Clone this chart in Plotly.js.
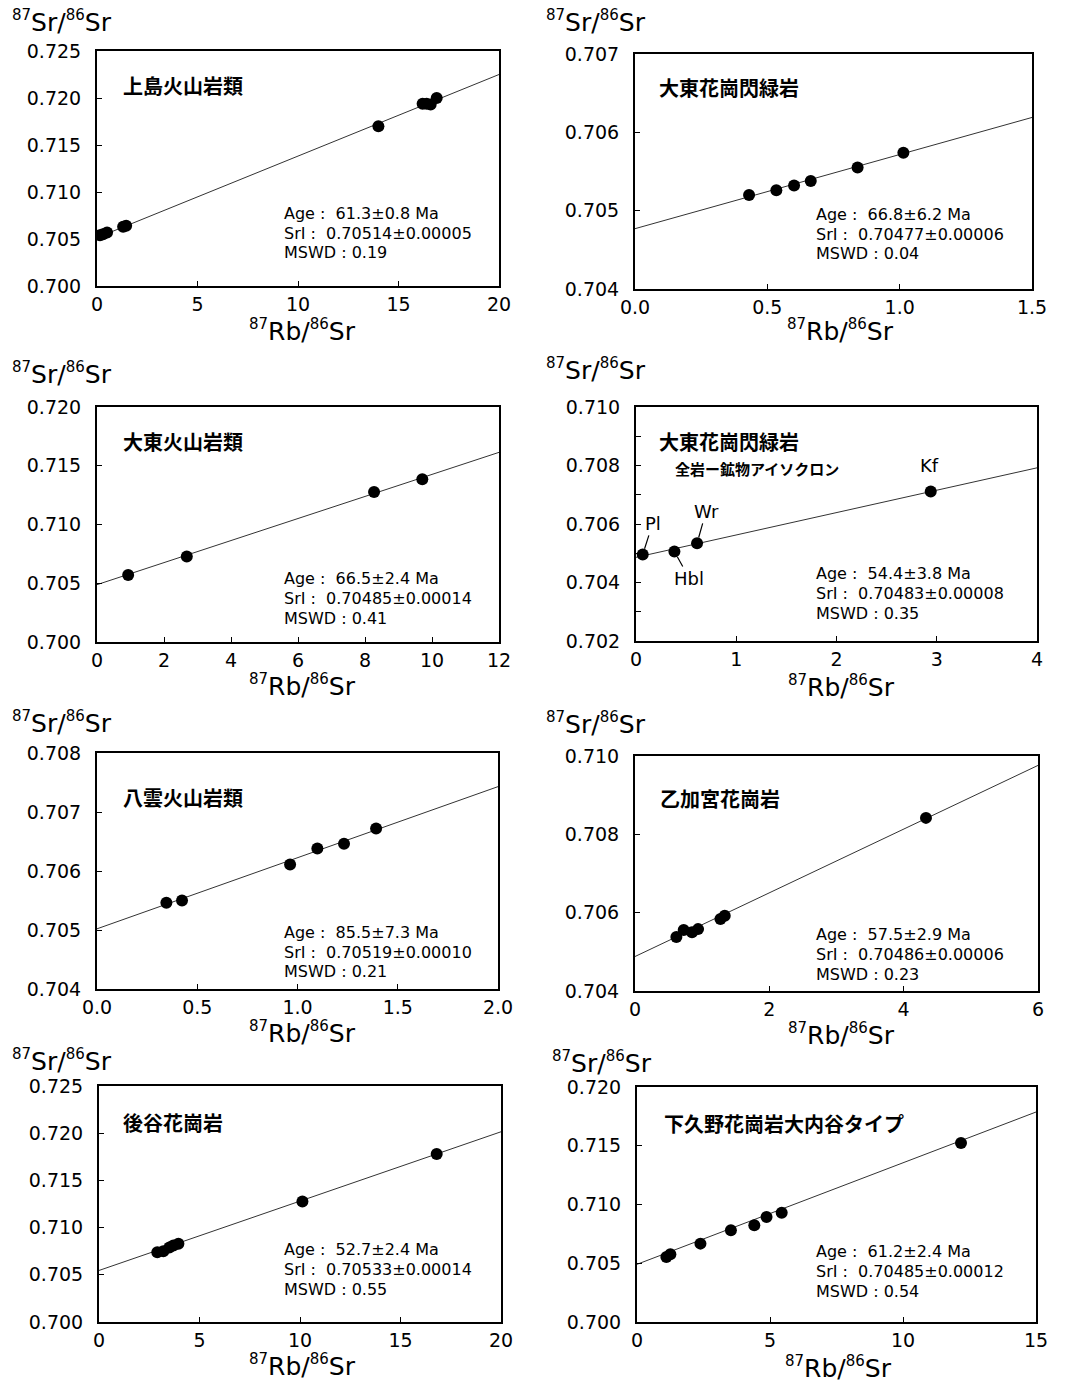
<!DOCTYPE html>
<html>
<head>
<meta charset="utf-8">
<script src="https://cdn.plot.ly/plotly-3.0.1.min.js"></script>
<style>
html,body{margin:0;padding:0;background:#fff;}
#chart{width:1065px;height:1384px;}
</style>
</head>
<body>
<div id="chart"></div>
<script>
// ---------- DATA ----------
const names = ["上島火山岩類","大東花崗閃緑岩","大東火山岩類","大東花崗閃緑岩","八雲火山岩類","乙加宮花崗岩","後谷花崗岩","下久野花崗岩大内谷タイプ"];
const ages  = ["61.3±0.8","66.8±6.2","66.5±2.4","54.4±3.8","85.5±7.3","57.5±2.9","52.7±2.4","61.2±2.4"];
const srIs  = ["0.70514±0.00005","0.70477±0.00006","0.70485±0.00014","0.70483±0.00008","0.70519±0.00010","0.70486±0.00006","0.70533±0.00014","0.70485±0.00012"];
const mswds = ["0.19","0.04","0.41","0.35","0.21","0.23","0.55","0.54"];
const subTitle4 = "全岩ー鉱物アイソクロン";
const mineralLabels4 = ["Pl","Hbl","Wr","Kf"];

// panel 1
const x1 = [0.15, 0.30, 0.50, 1.30, 1.45, 14.0, 16.2, 16.4, 16.6, 16.9];
const y1 = [0.7054, 0.7055, 0.7057, 0.7063, 0.7064, 0.7170, 0.7194, 0.7194, 0.7193, 0.7200];
const lx1 = [0, 20], ly1 = [0.70514, 0.72250];
// panel 2
const x2 = [0.431, 0.534, 0.601, 0.664, 0.841, 1.014];
const y2 = [0.70520, 0.70526, 0.70532, 0.70538, 0.70555, 0.70574];
const lx2 = [0, 1.5], ly2 = [0.70477, 0.70619];
// panel 3
const x3 = [0.93, 2.68, 8.27, 9.71];
const y3 = [0.70571, 0.70727, 0.71276, 0.71386];
const lx3 = [0, 12], ly3 = [0.70488, 0.71614];
// panel 4
const x4 = [0.067, 0.383, 0.609, 2.94];
const y4 = [0.70496, 0.70506, 0.70534, 0.70711];
const lx4 = [0, 4], ly4 = [0.70486, 0.70792];
// panel 5
const x5 = [0.346, 0.424, 0.963, 1.099, 1.232, 1.392];
const y5 = [0.70546, 0.70550, 0.70611, 0.70638, 0.70646, 0.70672];
const lx5 = [0, 2], ly5 = [0.70502, 0.70743];
// panel 6
const x6 = [0.616, 0.725, 0.849, 0.939, 1.272, 1.336, 4.332];
const y6 = [0.70538, 0.70556, 0.70550, 0.70558, 0.70584, 0.70592, 0.70842];
const lx6 = [0, 6], ly6 = [0.70488, 0.70976];
// panel 7
const x7 = [2.9, 3.2, 3.5, 3.7, 3.95, 10.12, 16.80];
const y7 = [0.70740, 0.70750, 0.70790, 0.70810, 0.70830, 0.71277, 0.71779];
const lx7 = [0, 20], ly7 = [0.70546, 0.72015];
// panel 8
const x8 = [1.105, 1.255, 2.385, 3.53, 4.41, 4.87, 5.44, 12.18];
const y8 = [0.70553, 0.70576, 0.70667, 0.70780, 0.70823, 0.70894, 0.70930, 0.71523];
const lx8 = [0, 15], ly8 = [0.70491, 0.71787];

const xsAll = [x1,x2,x3,x4,x5,x6,x7,x8];
const ysAll = [y1,y2,y3,y4,y5,y6,y7,y8];
const lxAll = [lx1,lx2,lx3,lx4,lx5,lx6,lx7,lx8];
const lyAll = [ly1,ly2,ly3,ly4,ly5,ly6,ly7,ly8];

// ---------- LAYOUT GEOMETRY (pixels) ----------
const W = 1065, H = 1384;
const px = v => v / W;
const py = v => 1 - v / H;

const boxes = [
  {l:97, r:499, t:51, b:286},
  {l:635, r:1032, t:54, b:289},
  {l:97, r:499, t:407, b:642},
  {l:636, r:1037, t:407, b:641},
  {l:97, r:498, t:753, b:989},
  {l:635, r:1038, t:756, b:991},
  {l:99, r:501, t:1086, b:1322},
  {l:637, r:1036, t:1087, b:1322}
];
const axes = [
  {xr:[0,20], dx:5, xf:'d', yr:[0.700,0.725], dy:0.005},
  {xr:[0,1.5], dx:0.5, xf:'.1f', yr:[0.704,0.707], dy:0.001},
  {xr:[0,12], dx:2, xf:'d', yr:[0.700,0.720], dy:0.005},
  {xr:[0,4], dx:1, xf:'d', yr:[0.702,0.710], dy:0.002, ymin:0.001},
  {xr:[0,2], dx:0.5, xf:'.1f', yr:[0.704,0.708], dy:0.001},
  {xr:[0,6], dx:2, xf:'d', yr:[0.704,0.710], dy:0.002},
  {xr:[0,20], dx:5, xf:'d', yr:[0.700,0.725], dy:0.005},
  {xr:[0,15], dx:5, xf:'d', yr:[0.700,0.720], dy:0.005}
];
const yTitlePos = [[62,22],[596,22],[62,373],[596,370],[62,722],[596,723],[62,1060],[602,1062]];
const xTitlePos = [[302,330],[840,330],[302,685],[841,686],[302,1032],[841,1034],[302,1365],[838,1367]];
const namePos = [[121,86],[657,87],[121,441],[657,441],[121,797],[658,798],[121,1122],[662,1123]];
const statPos = [[282,213],[814,214],[282,578],[814,573],[282,932],[814,934],[282,1249],[814,1251]];

const LATIN = "DejaVu Sans, Verdana, sans-serif";
const CJK = "Noto Sans CJK JP, sans-serif";
const SUP = s => '<sup><span style="font-size:15px">' + s + '</span></sup>';

const data = [];
const layout = {
  width: W, height: H,
  margin: {l:0, r:0, t:0, b:0},
  paper_bgcolor: '#fff', plot_bgcolor: '#fff',
  showlegend: false,
  annotations: []
};

for (let i = 0; i < 8; i++) {
  const n = i + 1;
  const xa = n === 1 ? 'x' : 'x' + n;
  const ya = n === 1 ? 'y' : 'y' + n;
  const xk = n === 1 ? 'xaxis' : 'xaxis' + n;
  const yk = n === 1 ? 'yaxis' : 'yaxis' + n;
  const b = boxes[i], a = axes[i];

  data.push({
    x: lxAll[i], y: lyAll[i], xaxis: xa, yaxis: ya,
    mode: 'lines', line: {color: '#333', width: 1}, hoverinfo: 'skip'
  });
  data.push({
    x: xsAll[i], y: ysAll[i], xaxis: xa, yaxis: ya,
    mode: 'markers', marker: {color: '#000', size: 12, line: {width: 0}}
  });

  layout[xk] = {
    domain: [px(b.l), px(b.r)], anchor: ya,
    range: a.xr, dtick: a.dx, tick0: 0, tickformat: a.xf,
    ticks: 'inside', ticklen: 5, tickwidth: 1, tickcolor: '#000',
    showline: true, linewidth: 2, linecolor: '#000', mirror: true,
    showgrid: false, zeroline: false,
    ticklabelstandoff: 0,
    tickfont: {family: LATIN, size: 19, color: '#000'}
  };
  layout[yk] = {
    domain: [py(b.b), py(b.t)], anchor: xa,
    range: a.yr, dtick: a.dy, tick0: 0.7, tickformat: '.3f',
    ticks: 'inside', ticklen: 5, tickwidth: 1, tickcolor: '#000',
    showline: true, linewidth: 2, linecolor: '#000', mirror: true,
    showgrid: false, zeroline: false,
    ticklabelstandoff: 10,
    tickfont: {family: LATIN, size: 19, color: '#000'}
  };
  if (a.ymin) {
    layout[yk].minor = {dtick: a.ymin, ticks: 'inside', ticklen: 5, tickwidth: 1, tickcolor: '#000', showgrid: false};
  }

  // y title (top-left)
  layout.annotations.push({
    xref: 'paper', yref: 'paper', x: px(yTitlePos[i][0]), y: py(yTitlePos[i][1]),
    xanchor: 'center', yanchor: 'middle', showarrow: false,
    text: SUP('87') + 'Sr/' + SUP('86') + 'Sr',
    font: {family: LATIN, size: 25, color: '#000'}
  });
  // x title
  layout.annotations.push({
    xref: 'paper', yref: 'paper', x: px(xTitlePos[i][0]), y: py(xTitlePos[i][1]),
    xanchor: 'center', yanchor: 'middle', showarrow: false,
    text: SUP('87') + 'Rb/' + SUP('86') + 'Sr',
    font: {family: LATIN, size: 25, color: '#000'}
  });
  // sample name
  layout.annotations.push({
    xref: 'paper', yref: 'paper', x: px(namePos[i][0]), y: py(namePos[i][1]),
    xanchor: 'left', yanchor: 'middle', showarrow: false,
    text: names[i],
    font: {family: CJK, size: 20, color: '#000', weight: 'bold'}
  });
  // stats
  const lines = ['Age :  ' + ages[i] + ' Ma', 'SrI :  ' + srIs[i], 'MSWD : ' + mswds[i]];
  lines.forEach((t, k) => {
    layout.annotations.push({
      xref: 'paper', yref: 'paper', x: px(statPos[i][0]), y: py(statPos[i][1] + k * 20),
      xanchor: 'left', yanchor: 'middle', showarrow: false,
      text: t,
      font: {family: LATIN, size: 16, color: '#000'}
    });
  });
}

// panel 4 extras
layout.annotations.push({
  xref: 'paper', yref: 'paper', x: px(673), y: py(468),
  xanchor: 'left', yanchor: 'middle', showarrow: false,
  text: subTitle4, font: {family: CJK, size: 15, color: '#000', weight: 'bold'}
});
const lblOff = [[10,-31],[15,27],[9,-32]];
for (let k = 0; k < 3; k++) {
  layout.annotations.push({
    xref: 'x4', yref: 'y4', x: x4[k], y: y4[k],
    ax: lblOff[k][0], ay: lblOff[k][1], axref: 'pixel', ayref: 'pixel',
    showarrow: true, arrowhead: 0, arrowwidth: 1.2, arrowcolor: '#000', standoff: 6,
    text: mineralLabels4[k], font: {family: LATIN, size: 18, color: '#000'}
  });
}
layout.annotations.push({
  xref: 'paper', yref: 'paper', x: px(929), y: py(465),
  xanchor: 'center', yanchor: 'middle', showarrow: false,
  text: mineralLabels4[3], font: {family: LATIN, size: 18, color: '#000'}
});

Plotly.newPlot('chart', data, layout, {staticPlot: true, displayModeBar: false});
</script>
</body>
</html>
